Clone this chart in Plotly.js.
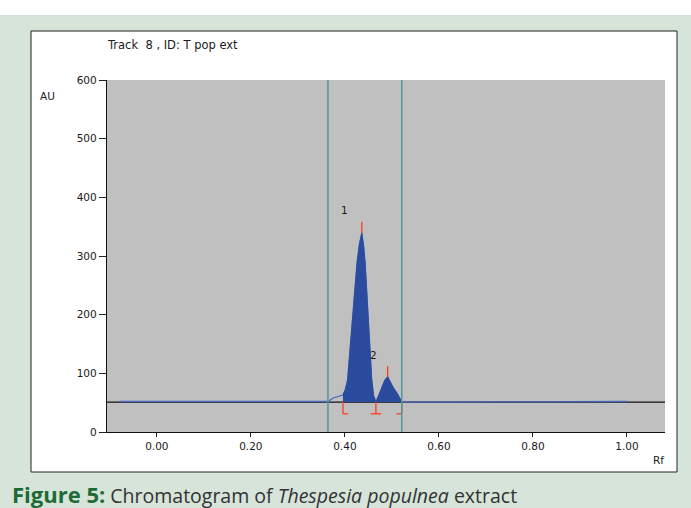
<!DOCTYPE html>
<html>
<head>
<meta charset="utf-8">
<script src="https://cdn.plot.ly/plotly-3.0.1.min.js"></script>
<style>html,body{margin:0;padding:0;background:#fff;}#chart{width:691px;height:508px;}</style>
</head>
<body>
<div id="chart"></div>
<script>
// Densitometric profile (Rf vs AU)
const rf = [-0.08, 0.364, 0.375, 0.385, 0.396, 0.401, 0.406, 0.411, 0.417, 0.422, 0.426, 0.431, 0.436, 0.440, 0.443, 0.446, 0.449, 0.453, 0.457, 0.461, 0.466, 0.472, 0.479, 0.485, 0.491, 0.497, 0.503, 0.511, 0.516, 0.521, 1.00];
const au = [52, 52, 58, 61, 63, 72, 89, 140, 203, 250, 288, 320, 339, 315, 288, 245, 203, 145, 89, 62, 51, 62, 77, 88, 94, 85, 75, 66, 57, 51, 52];
const baselineAU = 51;
// Integrated peaks
const peakLabels = ["1", "2"];
const peakApexRf = [0.436, 0.491];
const peakApexAU = [339, 94];
const peakMarkTopAU = [358, 112];
const peakLabelRf = [0.400, 0.460];
const peakLabelAU = [378, 131];
const peakBounds = [0.396, 0.466, 0.521];
const bracketBottomAU = 31;
// Integration window
const windowRf = [0.364, 0.521];
// Axes
const xTickVals = [0, 0.2, 0.4, 0.6, 0.8, 1.0];
const xTickText = ["0.00", "0.20", "0.40", "0.60", "0.80", "1.00"];
const yTickVals = [0, 100, 200, 300, 400, 500, 600];
const xRange = [-0.106, 1.081];
const yRange = [0, 600];

const fillLo = peakBounds[0], fillHi = peakBounds[peakBounds.length - 1];
const fx = [], fy = [];
rf.forEach((v, i) => { if (v >= fillLo && v <= fillHi) { fx.push(v); fy.push(au[i]); } });

// red markers
const rx = [], ry = [];
peakApexRf.forEach((v, i) => { rx.push(v, v, null); ry.push(peakApexAU[i], peakMarkTopAU[i], null); });
const foot = 0.011;
peakBounds.forEach((b, i) => {
  rx.push(b, b, null); ry.push(baselineAU, bracketBottomAU, null);
  const l = i === 0 ? b : b - foot;
  const r = i === peakBounds.length - 1 ? b : b + foot;
  rx.push(l, r, null); ry.push(bracketBottomAU, bracketBottomAU, null);
});

const traces = [
  {x: rf, y: au, mode: 'lines', line: {color: '#4a66b8', width: 1.3}, showlegend: false},
  {x: [fillLo, fillHi], y: [baselineAU, baselineAU], mode: 'lines', line: {width: 0, color: 'rgba(0,0,0,0)'}, hoverinfo: 'skip', showlegend: false},
  {x: fx, y: fy, mode: 'lines', fill: 'tonexty', fillcolor: '#2b4c9e', line: {color: '#2b4c9e', width: 1}, showlegend: false},
  {x: rx, y: ry, mode: 'lines', line: {color: '#ff3b1f', width: 1.3}, showlegend: false}
];

const ax = (px) => (px - 107) / 558;
const ay = (py) => (432 - py) / 352;
const font = {family: 'DejaVu Sans, Verdana, sans-serif', size: 10.5, color: '#1a1a1a'};
const titleFont = {family: 'DejaVu Sans, Verdana, sans-serif', size: 11.5, color: '#1a1a1a'};

const layout = {
  width: 691, height: 508,
  margin: {l: 107, r: 26, t: 80, b: 76, pad: 0},
  paper_bgcolor: '#d6e4da',
  plot_bgcolor: '#c0c0c0',
  showlegend: false,
  font: font,
  xaxis: {range: xRange, tickvals: xTickVals, ticktext: xTickText, ticks: 'outside', ticklen: 4, tickcolor: '#222',
          showline: true, linecolor: '#111', linewidth: 1.2, showgrid: false, zeroline: false, tickfont: font, fixedrange: true},
  yaxis: {range: yRange, tickvals: yTickVals, ticks: 'outside', ticklen: 7, tickcolor: '#222',
          showline: true, linecolor: '#111', linewidth: 1.2, showgrid: false, zeroline: false, tickfont: font, fixedrange: true},
  shapes: [
    {type: 'rect', xref: 'paper', yref: 'paper', x0: ax(-5), x1: ax(700), y0: ay(15), y1: ay(-5), fillcolor: '#ffffff', line: {width: 0}, layer: 'below'},
    {type: 'rect', xref: 'paper', yref: 'paper', x0: ax(31), x1: ax(677), y0: ay(472), y1: ay(31), fillcolor: '#ffffff', line: {color: '#222', width: 1}, layer: 'below'},
    {type: 'rect', xref: 'paper', yref: 'paper', x0: 0, x1: 1, y0: 0, y1: 1, fillcolor: '#c0c0c0', line: {width: 0}, layer: 'below'},
    {type: 'line', xref: 'paper', yref: 'y', x0: 0, x1: 1, y0: baselineAU, y1: baselineAU, line: {color: '#111', width: 1.3}, layer: 'below'},
    {type: 'line', xref: 'x', yref: 'paper', x0: windowRf[0], x1: windowRf[0], y0: 0, y1: 1, line: {color: '#4f9898', width: 1.5}},
    {type: 'line', xref: 'x', yref: 'paper', x0: windowRf[1], x1: windowRf[1], y0: 0, y1: 1, line: {color: '#4f9898', width: 1.5}}
  ],
  annotations: [
    {xref: 'paper', yref: 'paper', x: ax(105), y: ay(45), xanchor: 'left', yanchor: 'middle', showarrow: false, text: 'Track  8 , ID: T pop ext', font: titleFont},
    {xref: 'paper', yref: 'paper', x: ax(38), y: ay(96), xanchor: 'left', yanchor: 'middle', showarrow: false, text: 'AU', font: font},
    {xref: 'paper', yref: 'paper', x: ax(666), y: ay(460), xanchor: 'right', yanchor: 'middle', showarrow: false, text: 'Rf', font: font},
    {xref: 'paper', yref: 'paper', x: ax(10), y: ay(494), xanchor: 'left', yanchor: 'middle', showarrow: false,
     text: '<b><span style="color:#1d6b34;font-size:22px">Figure 5:</span></b> Chromatogram of <i>Thespesia populnea</i> extract',
     font: {family: 'Open Sans, sans-serif', size: 19.5, color: '#333'}}
  ].concat(peakLabels.map((t, i) => ({x: peakLabelRf[i], y: peakLabelAU[i], xref: 'x', yref: 'y', text: t, showarrow: false, font: font})))
};

Plotly.newPlot('chart', traces, layout, {displayModeBar: false, staticPlot: true});
</script>
</body>
</html>
